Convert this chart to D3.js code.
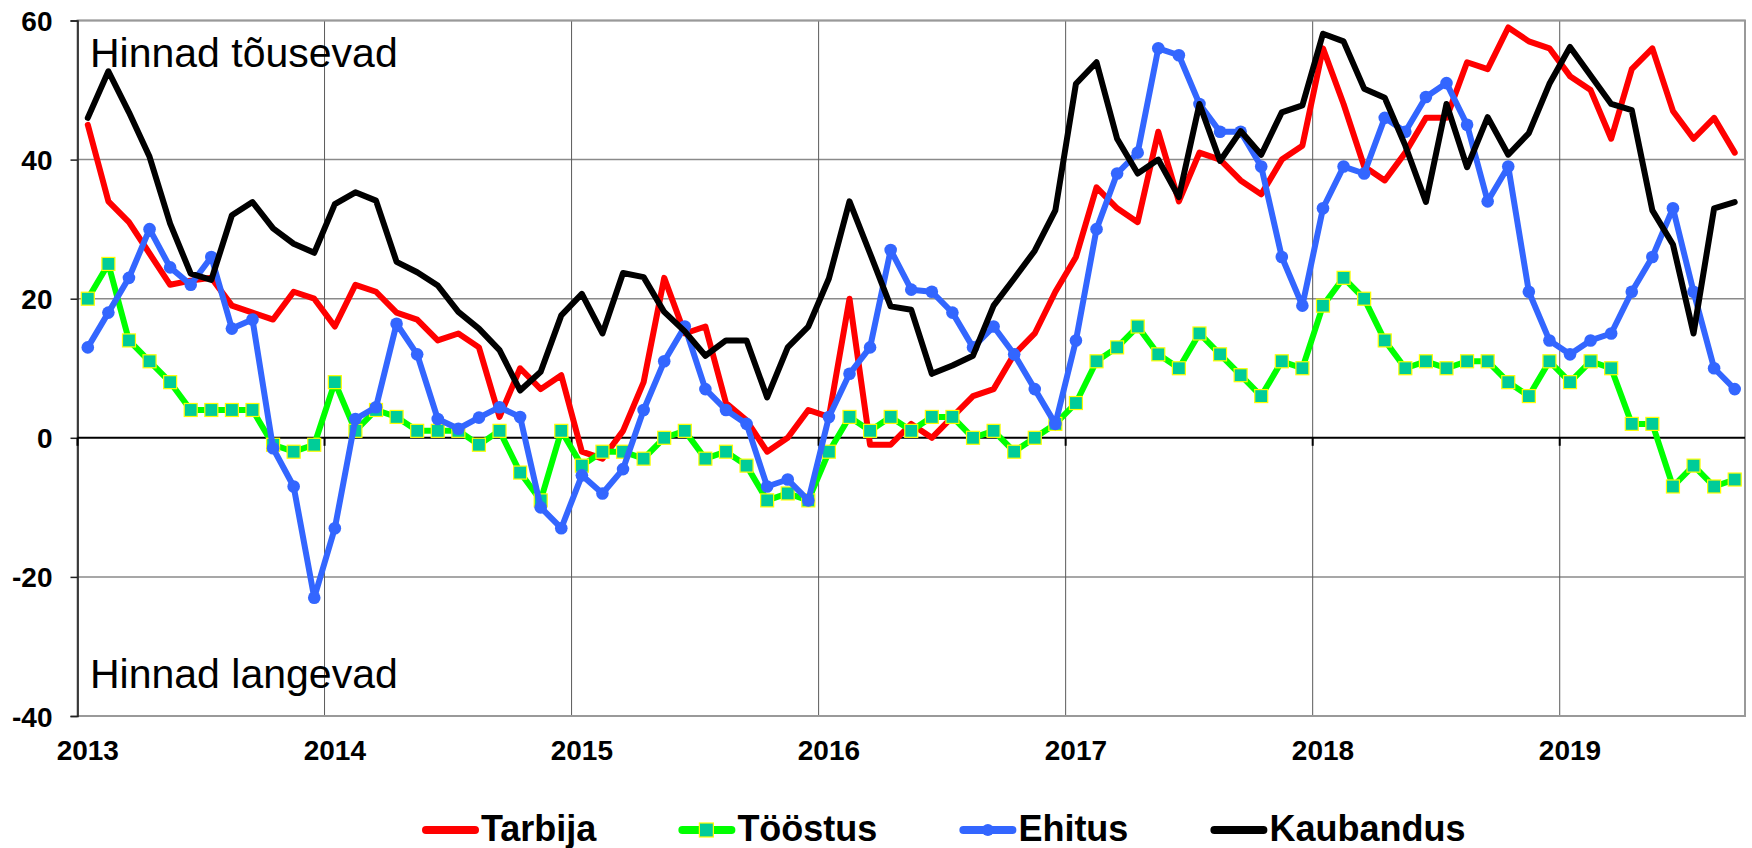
<!DOCTYPE html>
<html>
<head>
<meta charset="utf-8">
<script src="https://cdnjs.cloudflare.com/ajax/libs/d3/7.8.5/d3.min.js"></script>
<style>
  body { margin: 0; background: #fff; }
  svg { display: block; font-family: "Liberation Sans", Arial, sans-serif; }
</style>
</head>
<body>
<svg id="chart" width="1752" height="848"></svg>
<script>
// monthly categories, Jan 2013 .. Sep 2019
var months = [
  "2013-01","2013-02","2013-03","2013-04","2013-05","2013-06","2013-07","2013-08","2013-09","2013-10","2013-11","2013-12",
  "2014-01","2014-02","2014-03","2014-04","2014-05","2014-06","2014-07","2014-08","2014-09","2014-10","2014-11","2014-12",
  "2015-01","2015-02","2015-03","2015-04","2015-05","2015-06","2015-07","2015-08","2015-09","2015-10","2015-11","2015-12",
  "2016-01","2016-02","2016-03","2016-04","2016-05","2016-06","2016-07","2016-08","2016-09","2016-10","2016-11","2016-12",
  "2017-01","2017-02","2017-03","2017-04","2017-05","2017-06","2017-07","2017-08","2017-09","2017-10","2017-11","2017-12",
  "2018-01","2018-02","2018-03","2018-04","2018-05","2018-06","2018-07","2018-08","2018-09","2018-10","2018-11","2018-12",
  "2019-01","2019-02","2019-03","2019-04","2019-05","2019-06","2019-07","2019-08","2019-09"
];
var yearLabels = ["2013", "2014", "2015", "2016", "2017", "2018", "2019"];
var yTicks = [-40, -20, 0, 20, 40, 60];

var tarbija = [
  45, 34, 31, 26.5, 22, 22.6, 23, 19, 18, 17, 21, 20,
  16, 22, 21, 18, 17, 14, 15, 13, 3, 10, 7, 9,
  -2, -3, 1, 8, 23, 15, 16, 5, 2.5, -2, 0, 4,
  3, 20, -1, -1, 2, 0, 3, 6, 7, 12, 15, 21,
  26, 36, 33, 31, 44, 34, 41, 40, 37, 35, 40, 42,
  56, 48, 39, 37, 41, 46, 46, 54, 53, 59, 57, 56,
  52, 50, 43, 53, 56, 47, 43, 46, 41
];
var toostus = [
  20, 25, 14, 11, 8, 4, 4, 4, 4, -1, -2, -1,
  8, 1, 4, 3, 1, 1, 1, -1, 1, -5, -9, 1,
  -4, -2, -2, -3, 0, 1, -3, -2, -4, -9, -8, -9,
  -2, 3, 1, 3, 1, 3, 3, 0, 1, -2, 0, 2,
  5, 11, 13, 16, 12, 10, 15, 12, 9, 6, 11, 10,
  19, 23, 20, 14, 10, 11, 10, 11, 11, 8, 6, 11,
  8, 11, 10, 2, 2, -7, -4, -7, -6
];
var ehitus = [
  13, 18, 23, 30, 24.5, 22, 26, 15.7, 17, -1.5, -7, -23,
  -13, 2.7, 4.4, 16.4, 12, 2.7, 1.3, 2.9, 4.4, 3, -10, -13,
  -5.4, -8, -4.5, 4, 11, 16, 7, 4, 2, -7, -6, -9,
  3, 9.2, 13, 27, 21.3, 21, 18, 13, 16, 12, 7, 2,
  14, 30, 38, 41, 56, 55, 48, 44, 44, 39, 26, 19,
  33, 39, 38, 46, 44, 49, 51, 45, 34, 39, 21, 14,
  12, 14, 15, 21, 26, 33, 21, 10, 7
];
var kaubandus = [
  46, 52.7, 46.8, 40.4, 30.8, 23.6, 22.7, 32, 33.9, 30.1, 27.9, 26.6,
  33.6, 35.3, 34.1, 25.3, 23.8, 21.9, 18.1, 15.7, 12.6, 6.8, 9.5, 17.6,
  20.7, 15, 23.7, 23.1, 18.1, 15.3, 11.8, 14, 14, 5.8, 13, 16,
  22.9, 34, 26.5, 18.9, 18.4, 9.2, 10.4, 11.8, 19, 22.9, 26.9, 32.7,
  50.9, 54, 43, 38, 40, 34.6, 48, 39.8, 44.1, 40.7, 46.8, 47.8,
  58.1, 57, 50.2, 48.9, 42, 33.9, 48, 38.9, 46.1, 40.7, 43.8, 50.9,
  56.2, 52.1, 48, 47.1, 32.7, 27.8, 15, 33, 33.9
];

var seriesNames = ["Tarbija", "Tööstus", "Ehitus", "Kaubandus"];
var seriesValues = [tarbija, toostus, ehitus, kaubandus];
var seriesColors = ["#ff0000", "#00ff00", "#3366ff", "#000000"];
var seriesMarkers = ["none", "square", "circle", "none"];

var svg = d3.select("#chart");
var width = 1752, height = 848;
var margin = { left: 77.5, right: 7, top: 20.5, bottom: 132 };
var plotBottom = height - margin.bottom;

var x = d3.scaleBand().domain(months).range([margin.left, width - margin.right]).padding(0);
var bw = x.bandwidth();
var y = d3.scaleLinear().domain([-40, 60]).range([plotBottom, margin.top]);

function cx(i) { return x(months[i]) + bw / 2; }

// year boundaries (January of each year)
var janMonths = months.filter(function (m) { return m.slice(5) == "01"; });

var grid = svg.append("g");
// horizontal gridlines
grid.selectAll("line.h").data(yTicks.filter(function (t) { return t != 0; }))
  .enter().append("line").attr("class", "h")
  .attr("x1", margin.left).attr("x2", width - margin.right)
  .attr("y1", function (d) { return y(d); }).attr("y2", function (d) { return y(d); })
  .attr("stroke", "#8a8a8a").attr("stroke-width", 1.5);
// vertical gridlines between Dec and Jan
grid.selectAll("line.v").data(janMonths.slice(1))
  .enter().append("line").attr("class", "v")
  .attr("x1", function (d) { return x(d); }).attr("x2", function (d) { return x(d); })
  .attr("y1", margin.top).attr("y2", plotBottom)
  .attr("stroke", "#5a5a5a").attr("stroke-width", 1);

// plot border
svg.append("rect")
  .attr("x", margin.left).attr("y", margin.top)
  .attr("width", width - margin.right - margin.left).attr("height", plotBottom - margin.top)
  .attr("fill", "none").attr("stroke", "#999").attr("stroke-width", 2);

// y axis (plain hyphen for negatives, like the original)
var yAxis = svg.append("g")
  .attr("transform", "translate(" + margin.left + ",0)")
  .call(d3.axisLeft(y).tickValues(yTicks).tickSize(7).tickPadding(18)
    .tickFormat(function (d) { return String(d); }));
yAxis.select(".domain").attr("stroke", "#222").attr("stroke-width", 1.6);
yAxis.selectAll(".tick line").attr("stroke", "#222").attr("stroke-width", 1.5);
yAxis.selectAll("text")
  .attr("font-family", '"Liberation Sans", Arial, sans-serif')
  .attr("font-size", 28).attr("font-weight", "bold").attr("fill", "#000")
  .attr("dy", "0.36em");

// zero line with small year ticks
svg.append("line")
  .attr("x1", margin.left).attr("x2", width - margin.right)
  .attr("y1", y(0)).attr("y2", y(0))
  .attr("stroke", "#000").attr("stroke-width", 2);
svg.selectAll("line.ztick").data(janMonths)
  .enter().append("line").attr("class", "ztick")
  .attr("x1", function (d) { return x(d); }).attr("x2", function (d) { return x(d); })
  .attr("y1", y(0)).attr("y2", y(0) + 8)
  .attr("stroke", "#000").attr("stroke-width", 2);

// year labels at January
var xAxis = svg.append("g")
  .attr("transform", "translate(0," + plotBottom + ")")
  .call(d3.axisBottom(x).tickValues(janMonths).tickSize(0).tickPadding(24)
    .tickFormat(function (d, i) { return yearLabels[i]; }));
xAxis.select(".domain").remove();
xAxis.selectAll("text")
  .attr("font-family", '"Liberation Sans", Arial, sans-serif')
  .attr("font-size", 28).attr("font-weight", "bold").attr("fill", "#000");

// annotations
svg.append("text").attr("x", 90).attr("y", 67)
  .attr("font-size", 41).attr("fill", "#000").text("Hinnad tõusevad");
svg.append("text").attr("x", 90).attr("y", 688)
  .attr("font-size", 41).attr("fill", "#000").text("Hinnad langevad");

// series
var line = d3.line()
  .x(function (d, i) { return cx(i); })
  .y(function (d) { return y(d); });

seriesValues.forEach(function (vals, s) {
  var g = svg.append("g");
  g.append("path").datum(vals)
    .attr("d", line)
    .attr("fill", "none")
    .attr("stroke", seriesColors[s])
    .attr("stroke-width", 6)
    .attr("stroke-linejoin", "round")
    .attr("stroke-linecap", "round");
  if (seriesMarkers[s] == "square") {
    g.selectAll("rect").data(vals).enter().append("rect")
      .attr("x", function (d, i) { return cx(i) - 6.5; })
      .attr("y", function (d) { return y(d) - 6.5; })
      .attr("width", 13).attr("height", 13)
      .attr("fill", "#00cc99").attr("stroke", "#ffff00").attr("stroke-width", 1.2);
  } else if (seriesMarkers[s] == "circle") {
    g.selectAll("circle").data(vals).enter().append("circle")
      .attr("cx", function (d, i) { return cx(i); })
      .attr("cy", function (d) { return y(d); })
      .attr("r", 6.3)
      .attr("fill", seriesColors[s]);
  }
});

// legend
var legendY = 830;
var lx = 422;
seriesNames.forEach(function (name, s) {
  var g = svg.append("g");
  g.append("line")
    .attr("x1", lx + 4).attr("x2", lx + 53)
    .attr("y1", legendY).attr("y2", legendY)
    .attr("stroke", seriesColors[s]).attr("stroke-width", 8)
    .attr("stroke-linecap", "round");
  if (seriesMarkers[s] == "square") {
    g.append("rect").attr("x", lx + 21).attr("y", legendY - 7)
      .attr("width", 14).attr("height", 14)
      .attr("fill", "#00cc99").attr("stroke", "#ffff00").attr("stroke-width", 1.2);
  } else if (seriesMarkers[s] == "circle") {
    g.append("circle").attr("cx", lx + 28.5).attr("cy", legendY).attr("r", 6)
      .attr("fill", seriesColors[s]);
  }
  var t = g.append("text").attr("x", lx + 59).attr("y", legendY + 11)
    .attr("font-size", 36).attr("font-weight", "bold").attr("fill", "#000")
    .text(name);
  lx = lx + 59 + t.node().getComputedTextLength() + 82;
});
</script>
</body>
</html>
